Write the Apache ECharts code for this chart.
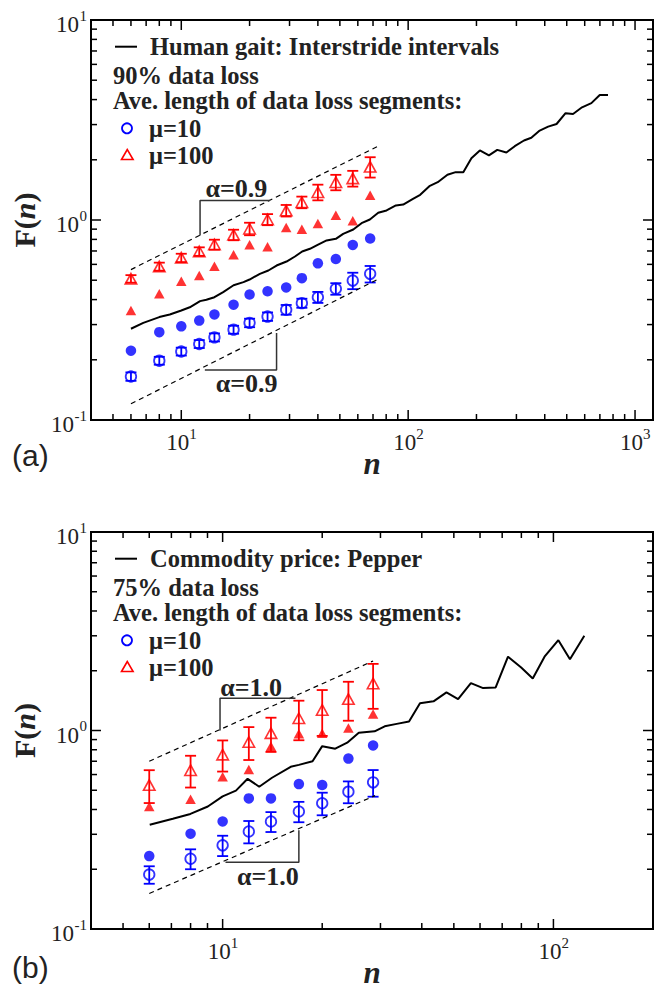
<!DOCTYPE html>
<html>
<head>
<meta charset="utf-8">
<script src="https://cdn.jsdelivr.net/npm/echarts@6.0.0/dist/echarts.min.js"></script>
<style>
html,body{margin:0;padding:0;background:#fff;}
#chart{width:665px;height:989px;}
</style>
</head>
<body>
<div id="chart"></div>
<script>
// ================= Panel (a): Human gait, 90% data loss =================
const nA = [6, 8, 10, 12, 14, 17, 20, 24, 29, 34, 40, 48, 57, 68];
const aMu10Open    = [0.165, 0.198, 0.220, 0.240, 0.259, 0.283, 0.306, 0.329, 0.356, 0.384, 0.411, 0.453, 0.498, 0.538];
const aMu10OpenErr = [0.008, 0.009, 0.010, 0.011, 0.012, 0.013, 0.015, 0.016, 0.020, 0.020, 0.026, 0.030, 0.047, 0.051];
const aMu10Filled  = [0.222, 0.275, 0.294, 0.314, 0.337, 0.377, 0.424, 0.440, 0.460, 0.512, 0.607, 0.638, 0.750, 0.808];
const aMu100Open    = [0.508, 0.585, 0.647, 0.696, 0.754, 0.843, 0.904, 1.006, 1.115, 1.227, 1.378, 1.545, 1.615, 1.845];
const aMu100OpenErr = [0.022, 0.027, 0.031, 0.034, 0.043, 0.051, 0.065, 0.064, 0.074, 0.082, 0.124, 0.137, 0.146, 0.215];
const aMu100Filled  = [0.353, 0.428, 0.494, 0.528, 0.587, 0.670, 0.751, 0.734, 0.917, 0.900, 0.960, 1.056, 0.990, 1.330];
const aLineN = [6, 6.8, 8, 8.9, 10, 10.9, 12.1, 12.9, 14, 15.3, 17, 18.8, 20, 22.2, 24.2, 26.3, 29.1, 31.7, 34.1, 36.9, 39.9, 43.7, 48, 51.7, 57.3, 62.3, 67.8, 73.8, 80.3, 88.3, 95.1, 105, 113, 124, 135, 149, 162, 175, 190, 207, 227, 247, 271, 295, 324, 349, 380, 414, 451, 494, 533, 584, 642, 699, 760];
const aLineF = [0.286, 0.306, 0.327, 0.337, 0.353, 0.366, 0.393, 0.399, 0.411, 0.436, 0.472, 0.489, 0.504, 0.538, 0.559, 0.592, 0.620, 0.657, 0.696, 0.718, 0.751, 0.790, 0.805, 0.853, 0.896, 0.964, 1.006, 1.086, 1.116, 1.182, 1.195, 1.276, 1.336, 1.476, 1.545, 1.683, 1.735, 1.735, 2.038, 2.228, 2.103, 2.242, 2.175, 2.339, 2.498, 2.576, 2.799, 2.930, 3.020, 3.420, 3.390, 3.660, 3.840, 4.220, 4.220];
const aDashUpN = [6, 73.7],  aDashUpF = [0.565, 2.34];
const aDashLoN = [6, 72.6],  aDashLoF = [0.1205, 0.502];
const aBracketUpN = [12.1, 12.1, 24.6],  aBracketUpF = [0.837, 1.252, 1.252];
const aBracketLoN = [26.3, 26.3, 12.7],  aBracketLoF = [0.272, 0.178, 0.178];
const aAnnotN = [17.5, 19.4], aAnnotF = [1.43, 0.152], aAnnotText = ['α=0.9', 'α=0.9'];
const aTitle = 'Human gait: Interstride intervals';
const aLoss = '90% data loss';

// ================= Panel (b): Commodity price, 75% data loss =================
const nB = [6, 8, 10, 12, 14, 17, 20, 24, 28.5];
const bMu10Open    = [0.188, 0.226, 0.264, 0.310, 0.348, 0.391, 0.430, 0.492, 0.548];
const bMu10OpenErr = [0.019, 0.026, 0.031, 0.040, 0.040, 0.046, 0.056, 0.062, 0.084];
const bMu10Filled  = [0.233, 0.302, 0.348, 0.455, 0.455, 0.537, 0.531, 0.722, 0.841];
const bMu100Open    = [0.531, 0.631, 0.756, 0.875, 0.970, 1.153, 1.269, 1.440, 1.726];
const bMu100OpenErr = [0.100, 0.115, 0.135, 0.165, 0.190, 0.260, 0.330, 0.320, 0.440];
const bMu100Filled  = [0.414, 0.450, 0.585, 0.636, 0.832, 0.963, 0.970, 1.028, 1.212];
const bLineN = [6.02, 7.07, 7.99, 9.02, 10, 10.97, 11.9, 12.9, 14.1, 16.06, 17, 18.7, 20, 21.9, 23.8, 25.8, 28.8, 30.9, 33.6, 36.6, 39.5, 43.4, 47.5, 51.5, 56.3, 61.3, 66.9, 72.9, 79.9, 86.6, 94, 103.5, 112.2, 124];
const bLineF = [0.335, 0.359, 0.380, 0.414, 0.466, 0.498, 0.571, 0.521, 0.578, 0.656, 0.671, 0.700, 0.834, 0.810, 0.868, 0.974, 0.990, 1.050, 1.080, 1.109, 1.371, 1.403, 1.556, 1.440, 1.732, 1.635, 1.648, 2.355, 2.075, 1.828, 2.355, 2.850, 2.283, 3.000];
const bDashUpN = [6, 28.5],  bDashUpF = [0.70, 2.24];
const bDashLoN = [6, 28.9],  bDashLoF = [0.151, 0.47];
const bBracketUpN = [9.82, 9.82, 16.6],  bBracketUpF = [1.0, 1.452, 1.452];
const bBracketLoN = [17.0, 17.0, 10.2],  bBracketLoF = [0.314, 0.217, 0.217];
const bAnnotN = [12.2, 13.7], bAnnotF = [1.648, 0.183], bAnnotText = ['α=1.0', 'α=1.0'];
const bTitle = 'Commodity price: Pepper';
const bLoss = '75% data loss';

// ================= Axes =================
const xRangeA = [4, 1200];
const xRangeB = [4, 200];
const yRange = [0.1, 10];
const xMajorA = [10, 100, 1000];
const xMinorA = [5, 6, 7, 8, 9, 20, 30, 40, 50, 60, 70, 80, 90, 200, 300, 400, 500, 600, 700, 800, 900];
const xMajorB = [10, 100];
const xMinorB = [5, 6, 7, 8, 9, 20, 30, 40, 50, 60, 70, 80, 90];
const yMajor = [0.1, 1, 10];
const yMinor = [0.2, 0.3, 0.4, 0.5, 0.6, 0.7, 0.8, 0.9, 2, 3, 4, 5, 6, 7, 8, 9];
const legendSegLabel = 'Ave. length of data loss segments:';
const mu10Label = 'μ=10', mu100Label = 'μ=100';

// ================= Rendering =================
const SERIF = 'Liberation Serif';
const SANS = 'Liberation Sans';
const TXT = '#222';
const BLUE = '#0000ff', RED = '#ff0000';

const chart = echarts.init(document.getElementById('chart'), null, {renderer: 'svg', width: 665, height: 989});

const zip = (xs, ys) => xs.map((x, i) => [x, ys[i]]);
const errZip = (xs, ys, es) => xs.map((x, i) => [x, ys[i], ys[i] - es[i], ys[i] + es[i]]);

function errRender(color) {
  return function (params, api) {
    const x = api.value(0);
    const lo = api.coord([x, api.value(2)]);
    const hi = api.coord([x, api.value(3)]);
    const hw = 5.5;
    const st = {stroke: color, lineWidth: 1.8, fill: null};
    return {type: 'group', children: [
      {type: 'line', shape: {x1: lo[0], y1: lo[1], x2: hi[0], y2: hi[1]}, style: st},
      {type: 'line', shape: {x1: lo[0] - hw, y1: lo[1], x2: lo[0] + hw, y2: lo[1]}, style: st},
      {type: 'line', shape: {x1: hi[0] - hw, y1: hi[1], x2: hi[0] + hw, y2: hi[1]}, style: st}
    ]};
  };
}

function supWidth(s, fs) {
  let w = 0;
  for (const ch of s) w += (ch === '-' ? 0.333 : 0.5) * fs;
  return w;
}

function tickRender(xr, yr) {
  return function (params, api) {
    const v = api.value(0), w = api.value(1), major = api.value(2), isY = api.value(3);
    const L = major ? 10 : 6;
    const st = {stroke: '#000', lineWidth: 1.5};
    const ch = [];
    if (!isY) {
      const pb = api.coord([v, yr[0]]), pt = api.coord([v, yr[1]]);
      ch.push({type: 'line', shape: {x1: pb[0], y1: pb[1], x2: pb[0], y2: pb[1] - L}, style: st});
      ch.push({type: 'line', shape: {x1: pt[0], y1: pt[1], x2: pt[0], y2: pt[1] + L}, style: st});
      if (major) {
        const e = String(Math.round(Math.log10(v)));
        ch.push({type: 'text', x: pb[0] - 3.5, y: pb[1] + 22, style: {text: '10', fontFamily: SERIF, fontSize: 23, fill: TXT, align: 'center', verticalAlign: 'middle'}});
        ch.push({type: 'text', x: pb[0] + 8, y: pb[1] + 14, style: {text: e, fontFamily: SERIF, fontSize: 15, fill: TXT, align: 'left', verticalAlign: 'middle'}});
      }
    } else {
      const pl = api.coord([xr[0], w]), pr = api.coord([xr[1], w]);
      ch.push({type: 'line', shape: {x1: pl[0], y1: pl[1], x2: pl[0] + L, y2: pl[1]}, style: st});
      ch.push({type: 'line', shape: {x1: pr[0], y1: pr[1], x2: pr[0] - L, y2: pr[1]}, style: st});
      if (major) {
        const e = String(Math.round(Math.log10(w)));
        const sw = supWidth(e, 15);
        ch.push({type: 'text', x: pl[0] - 4, y: pl[1] - 4.5, style: {text: e, fontFamily: SERIF, fontSize: 15, fill: TXT, align: 'right', verticalAlign: 'middle'}});
        ch.push({type: 'text', x: pl[0] - 4 - sw - 0.5, y: pl[1] + 4.5, style: {text: '10', fontFamily: SERIF, fontSize: 23, fill: TXT, align: 'right', verticalAlign: 'middle'}});
      }
    }
    return {type: 'group', children: ch};
  };
}

function annotRender(texts) {
  return function (params, api) {
    const p = api.coord([api.value(0), api.value(1)]);
    return {type: 'text', x: p[0], y: p[1], style: {text: texts[params.dataIndex], fontFamily: SERIF, fontSize: 26, fontWeight: 'bold', fill: TXT, align: 'center', verticalAlign: 'middle'}};
  };
}

function tickData(xr, yr, xMaj, xMin) {
  const d = [];
  xMaj.forEach(v => d.push([v, yr[0], 1, 0]));
  xMin.forEach(v => d.push([v, yr[0], 0, 0]));
  yMajor.forEach(v => d.push([xr[0], v, 1, 1]));
  yMinor.forEach(v => d.push([xr[0], v, 0, 1]));
  return d;
}

function panelSeries(i, P) {
  const base = {xAxisIndex: i, yAxisIndex: i, animation: false, silent: true};
  return [
    Object.assign({type: 'line', data: zip(P.dUpN, P.dUpF), symbol: 'none', lineStyle: {color: '#000', width: 1.2, type: [5, 4]}}, base),
    Object.assign({type: 'line', data: zip(P.dLoN, P.dLoF), symbol: 'none', lineStyle: {color: '#000', width: 1.2, type: [5, 4]}}, base),
    Object.assign({type: 'line', data: zip(P.brUpN, P.brUpF), symbol: 'none', lineStyle: {color: '#333', width: 1.5}}, base),
    Object.assign({type: 'line', data: zip(P.brLoN, P.brLoF), symbol: 'none', lineStyle: {color: '#333', width: 1.5}}, base),
    Object.assign({type: 'line', name: P.title, data: zip(P.lineN, P.lineF), symbol: 'none', lineStyle: {color: '#000', width: 2}}, base),
    Object.assign({type: 'custom', data: errZip(P.n, P.m10o, P.m10e), encode: {x: 0, y: 1}, renderItem: errRender(BLUE)}, base),
    Object.assign({type: 'custom', data: errZip(P.n, P.m100o, P.m100e), encode: {x: 0, y: 1}, renderItem: errRender(RED)}, base),
    Object.assign({type: 'scatter', data: zip(P.n, P.m10f), symbol: 'circle', symbolSize: 10.5, itemStyle: {color: BLUE}}, base),
    Object.assign({type: 'scatter', data: zip(P.n, P.m10o), symbol: 'circle', symbolSize: 10.5, itemStyle: {color: 'rgba(0,0,0,0)', borderColor: BLUE, borderWidth: 1.8}}, base),
    Object.assign({type: 'scatter', data: zip(P.n, P.m100f), symbol: 'triangle', symbolSize: [10.5, 9.5], itemStyle: {color: RED}}, base),
    Object.assign({type: 'scatter', data: zip(P.n, P.m100o), symbol: 'triangle', symbolSize: [11.5, 10.5], itemStyle: {color: 'rgba(0,0,0,0)', borderColor: RED, borderWidth: 1.6}}, base),
    Object.assign({type: 'custom', data: zip(P.anN, P.anF), encode: {x: 0, y: 1}, renderItem: annotRender(P.anT)}, base),
    Object.assign({type: 'custom', data: tickData(P.xr, yRange, P.xMaj, P.xMin), encode: {x: 0, y: 1}, renderItem: tickRender(P.xr, yRange), z: 10}, base)
  ];
}

const PA = {n: nA, m10o: aMu10Open, m10e: aMu10OpenErr, m10f: aMu10Filled, m100o: aMu100Open, m100e: aMu100OpenErr, m100f: aMu100Filled,
  lineN: aLineN, lineF: aLineF, dUpN: aDashUpN, dUpF: aDashUpF, dLoN: aDashLoN, dLoF: aDashLoF,
  brUpN: aBracketUpN, brUpF: aBracketUpF, brLoN: aBracketLoN, brLoF: aBracketLoF,
  anN: aAnnotN, anF: aAnnotF, anT: aAnnotText, xr: xRangeA, xMaj: xMajorA, xMin: xMinorA, title: aTitle};
const PB = {n: nB, m10o: bMu10Open, m10e: bMu10OpenErr, m10f: bMu10Filled, m100o: bMu100Open, m100e: bMu100OpenErr, m100f: bMu100Filled,
  lineN: bLineN, lineF: bLineF, dUpN: bDashUpN, dUpF: bDashUpF, dLoN: bDashLoN, dLoF: bDashLoF,
  brUpN: bBracketUpN, brUpF: bBracketUpF, brLoN: bBracketLoN, brLoF: bBracketLoF,
  anN: bAnnotN, anF: bAnnotF, anT: bAnnotText, xr: xRangeB, xMaj: xMajorB, xMin: xMinorB, title: bTitle};

function xAxisCfg(i, r) {
  return {type: 'log', logBase: 10, gridIndex: i, min: r[0], max: r[1],
    axisLine: {show: false}, axisTick: {show: false}, axisLabel: {show: false}, splitLine: {show: false},
    name: 'n', nameLocation: 'middle', nameGap: 28,
    nameTextStyle: {fontFamily: SERIF, fontSize: 31, fontWeight: 'bold', fontStyle: 'italic', color: TXT}};
}
function yAxisCfg(i) {
  return {type: 'log', logBase: 10, gridIndex: i, min: yRange[0], max: yRange[1],
    axisLine: {show: false}, axisTick: {show: false}, axisLabel: {show: false}, splitLine: {show: false},
    name: '{a|F(}{b|n}{a|)}', nameLocation: 'middle', nameGap: 52, nameRotate: 90,
    nameTextStyle: {rich: {
      a: {fontFamily: SERIF, fontSize: 30, fontWeight: 'bold', color: TXT},
      b: {fontFamily: SERIF, fontSize: 30, fontWeight: 'bold', fontStyle: 'italic', color: TXT}}}};
}

function legendGraphic(dy, title, loss) {
  const t = (x, y, s) => ({type: 'text', x: x, y: y + dy, style: {text: s, fontFamily: SERIF, fontSize: 24.5, fontWeight: 'bold', fill: TXT, align: 'left', verticalAlign: 'middle'}});
  return [
    {type: 'line', shape: {x1: 115, y1: 46.7 + dy, x2: 137, y2: 46.7 + dy}, style: {stroke: '#000', lineWidth: 2}},
    t(150, 46.7, title),
    t(113, 75, loss),
    t(113, 100.5, legendSegLabel),
    {type: 'circle', shape: {cx: 127, cy: 128.3 + dy, r: 5}, style: {stroke: BLUE, fill: 'none', lineWidth: 1.8}},
    t(149, 128.3, mu10Label),
    {type: 'polygon', shape: {points: [[127.3, 149.5 + dy], [121.5, 159.5 + dy], [133.1, 159.5 + dy]]}, style: {stroke: RED, fill: 'none', lineWidth: 1.6}},
    t(149, 155, mu100Label)
  ];
}

const option = {
  backgroundColor: '#fff',
  animation: false,
  grid: [
    {left: 91, top: 20, width: 562, height: 400, show: true, borderColor: '#000', borderWidth: 2, backgroundColor: 'transparent'},
    {left: 91, top: 532, width: 562, height: 400, show: true, borderColor: '#000', borderWidth: 2, backgroundColor: 'transparent'}
  ],
  xAxis: [xAxisCfg(0, xRangeA), xAxisCfg(1, xRangeB)],
  yAxis: [yAxisCfg(0), yAxisCfg(1)],
  graphic: [].concat(
    legendGraphic(0, aTitle, aLoss),
    legendGraphic(512, bTitle, bLoss),
    [
      {type: 'text', x: 12, y: 455, style: {text: '(a)', fontFamily: SANS, fontSize: 30, fill: TXT, align: 'left', verticalAlign: 'middle'}},
      {type: 'text', x: 12, y: 967, style: {text: '(b)', fontFamily: SANS, fontSize: 30, fill: TXT, align: 'left', verticalAlign: 'middle'}}
    ]
  ),
  series: [].concat(panelSeries(0, PA), panelSeries(1, PB))
};
chart.setOption(option);
</script>
</body>
</html>
